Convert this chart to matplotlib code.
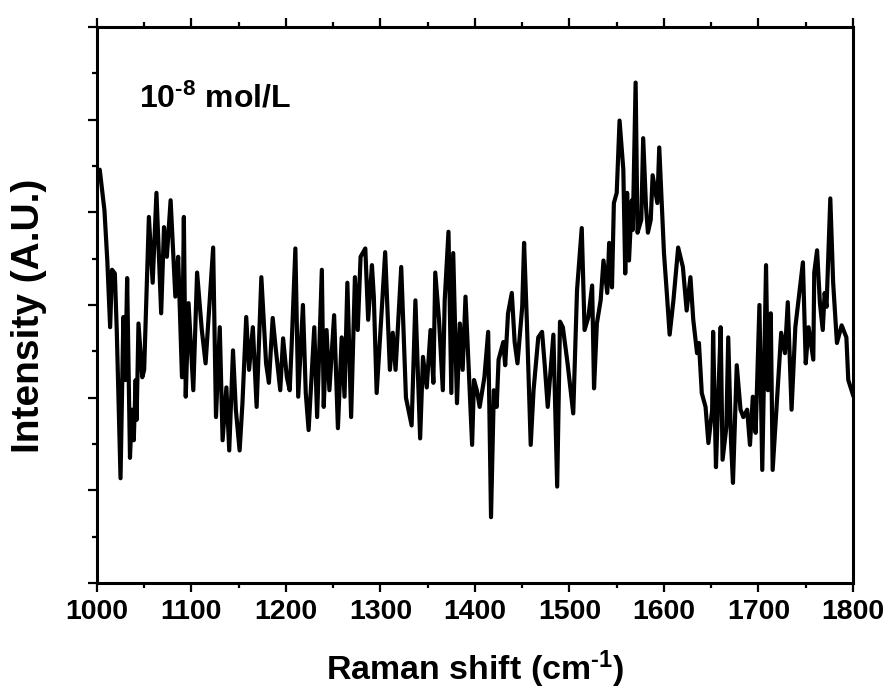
import numpy as np
import matplotlib
matplotlib.use('Agg')
import matplotlib.pyplot as plt
from matplotlib.ticker import MultipleLocator, NullFormatter

plt.rcParams['font.family'] = ['Liberation Sans', 'DejaVu Sans']
plt.rcParams['font.weight'] = 'bold'
plt.rcParams['mathtext.fontset'] = 'custom'
plt.rcParams['mathtext.rm'] = 'Liberation Sans:bold'
plt.rcParams['mathtext.bf'] = 'Liberation Sans:bold'
plt.rcParams['mathtext.default'] = 'bf'

# Raman shift (cm-1) and intensity (arbitrary units)
shift = [1000, 1003, 1008, 1011, 1014, 1016, 1019, 1021, 1025, 1028, 1030, 1032, 1035, 1037, 1039,
         1041, 1042, 1044, 1048, 1050, 1055, 1059, 1063, 1068, 1071, 1074, 1078, 1083, 1086, 1090,
         1092, 1094, 1097, 1102, 1106, 1111, 1115, 1123, 1126, 1130, 1133, 1137, 1140, 1144, 1147,
         1151, 1154, 1158, 1161, 1165, 1169, 1174, 1179, 1182, 1186, 1189, 1194, 1197, 1201, 1204,
         1206, 1210, 1213, 1218, 1221, 1224, 1230, 1233, 1238, 1240, 1243, 1246, 1251, 1255, 1259,
         1262, 1265, 1269, 1273, 1276, 1279, 1284, 1287, 1291, 1293, 1296, 1302, 1305, 1310, 1313,
         1316, 1322, 1327, 1333, 1337, 1342, 1345, 1349, 1353, 1356, 1358, 1362, 1366, 1368, 1372,
         1375, 1377, 1381, 1384, 1387, 1390, 1397, 1399, 1402, 1405, 1410, 1414, 1417, 1420, 1423,
         1425, 1430, 1432, 1435, 1439, 1442, 1445, 1450, 1452, 1455, 1459, 1462, 1467, 1471, 1474,
         1477, 1483, 1487, 1490, 1493, 1498, 1504, 1508, 1513, 1516, 1520, 1524, 1526, 1529, 1533,
         1536, 1540, 1542, 1545, 1547, 1550, 1553, 1557, 1559, 1561, 1563, 1566, 1567, 1570, 1572,
         1576, 1578, 1581, 1583, 1586, 1588, 1593, 1595, 1598, 1600, 1603, 1606, 1610, 1615, 1620,
         1624, 1628, 1631, 1635, 1637, 1640, 1644, 1647, 1651, 1652, 1655, 1657, 1660, 1662, 1666,
         1668, 1671, 1673, 1677, 1681, 1684, 1688, 1691, 1694, 1697, 1701, 1704, 1706, 1708, 1710,
         1713, 1715, 1720, 1724, 1728, 1731, 1735, 1739, 1742, 1747, 1750, 1753, 1758, 1759, 1762,
         1765, 1768, 1770, 1772, 1776, 1779, 1783, 1788, 1793, 1795, 1800]

intensity = [4.40, 4.46, 4.02, 3.48, 2.76, 3.38, 3.34, 2.73, 1.13, 2.87, 2.19, 3.29, 1.35, 1.87, 1.54,
             2.19, 1.76, 2.80, 2.22, 2.30, 3.95, 3.24, 4.21, 2.91, 3.84, 3.52, 4.13, 3.09, 3.52, 2.22,
             3.95, 2.01, 3.02, 2.08, 3.35, 2.73, 2.37, 3.62, 1.79, 2.76, 1.54, 2.11, 1.43, 2.51, 1.87,
             1.43, 1.94, 2.87, 2.30, 2.76, 1.90, 3.30, 2.37, 2.16, 2.86, 2.55, 2.08, 2.64, 2.22, 2.08,
             2.55, 3.61, 2.01, 3.00, 2.05, 1.65, 2.76, 1.79, 3.38, 1.90, 2.73, 2.08, 2.89, 1.67, 2.65,
             2.01, 3.24, 1.79, 3.30, 2.73, 3.52, 3.61, 2.84, 3.43, 3.09, 2.05, 3.05, 3.57, 2.30, 2.70,
             2.30, 3.41, 2.00, 1.70, 3.05, 1.56, 2.44, 2.11, 2.73, 2.16, 3.35, 2.84, 2.08, 3.05, 3.79,
             2.05, 3.56, 1.94, 2.80, 2.30, 3.09, 1.49, 2.19, 2.08, 1.90, 2.22, 2.71, 0.71, 2.08, 1.90,
             2.41, 2.60, 2.35, 2.91, 3.13, 2.60, 2.37, 2.98, 3.67, 2.80, 1.49, 2.08, 2.65, 2.71, 2.33,
             1.90, 2.68, 1.04, 2.82, 2.76, 2.37, 1.83, 3.16, 3.83, 2.73, 2.87, 3.21, 2.10, 2.80, 3.05,
             3.48, 3.13, 3.67, 3.19, 4.10, 4.21, 4.99, 4.46, 3.34, 4.21, 3.48, 4.13, 3.81, 5.40, 3.78,
             3.92, 4.80, 4.06, 3.78, 3.92, 4.40, 4.10, 4.70, 4.02, 3.56, 3.13, 2.68, 3.05, 3.62, 3.41,
             2.94, 3.30, 2.84, 2.48, 2.59, 2.05, 1.90, 1.51, 1.87, 2.71, 1.25, 1.87, 2.76, 1.33, 1.68,
             2.65, 1.51, 1.08, 2.35, 1.87, 1.79, 1.87, 1.49, 2.01, 1.62, 3.00, 1.22, 2.33, 3.43, 2.08,
             2.91, 1.22, 2.05, 2.70, 2.48, 3.03, 1.87, 2.76, 3.02, 3.46, 2.37, 2.76, 2.41, 3.35, 3.59,
             3.02, 2.73, 3.13, 2.98, 4.15, 3.24, 2.59, 2.78, 2.65, 2.19, 2.03]

xticks = [1000, 1100, 1200, 1300, 1400, 1500, 1600, 1700, 1800]

fig = plt.figure(figsize=(8.89, 6.97), dpi=100)
ax = fig.add_axes([0.109, 0.1636, 0.8505, 0.7977])

ax.plot(shift, intensity, color='black', linewidth=3.0, solid_joinstyle='round')

ax.set_xlim(1000, 1800)
ax.set_ylim(0, 6)
ax.set_xticks(xticks)
ax.xaxis.set_minor_locator(MultipleLocator(50))
ax.yaxis.set_major_locator(MultipleLocator(1))
ax.yaxis.set_minor_locator(MultipleLocator(0.5))
ax.yaxis.set_major_formatter(NullFormatter())

for s in ax.spines.values():
    s.set_linewidth(2.2)

ax.tick_params(axis='both', which='major', direction='out', length=6.5, width=1.6,
               labelsize=20.5, pad=5)
ax.tick_params(axis='both', which='minor', direction='out', length=3.8, width=1.6)
ax.tick_params(top=True, right=False, which='both')
ax.tick_params(axis='x', labeltop=False)

ax.set_xlabel(r'Raman shift (cm$^{\text{-}1}$)', fontsize=24.5, fontweight='bold')
ax.xaxis.set_label_coords(0.5, -0.118)
ax.set_ylabel('Intensity (A.U.)', fontsize=28, fontweight='bold')
ax.yaxis.set_label_coords(-0.066, 0.48)

ax.text(0.056, 0.87, r'10$^{\text{-}8}$ mol/L', transform=ax.transAxes, fontsize=23,
        fontweight='bold', ha='left', va='center')

fig.savefig('out.png', dpi=100)
